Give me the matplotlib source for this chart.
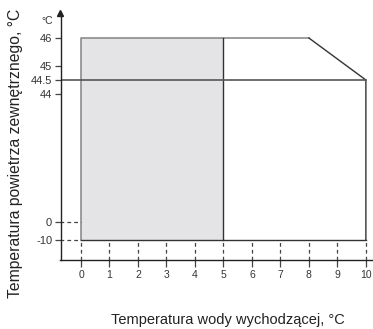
import numpy as np
import matplotlib
matplotlib.use('Agg')
import matplotlib.pyplot as plt

plt.rcParams['font.family'] = ['Liberation Sans', 'DejaVu Sans']

# operating envelope (water outlet temp vs outdoor air temp)
x_ticks = list(range(0, 11))
y_ticks = [46, 45, 44.5, 44, 0, -10]
y_tick_labels = ['46', '45', '44.5', '44', '0', '-10']

grey_x = [0, 5]            # shaded region
grey_y = [-10, 46]
top_x = [0, 0, 8]          # grey top / left border
top_y = [-10, 46, 46]
outline_x = [8, 10, 10]    # sloped right edge
outline_y = [46, 44.5, -10]
limit_y = 44.5

# non-linear (schematic) y axis
val_knots = [-21, -10, 0, 44, 45, 46, 47]
pos_knots = [0, 20, 38, 166, 194, 222, 247]


def fwd(v):
    return np.interp(v, val_knots, pos_knots, left=-1e3, right=1e3)


def inv(p):
    return np.interp(p, pos_knots, val_knots)


W, H = 373, 329
fig = plt.figure(figsize=(W / 100, H / 100), dpi=100)
ax = fig.add_axes([60.5 / W, 69 / H, (W - 60.5) / W, 247 / H])
ax.set_yscale('function', functions=(fwd, inv))
ax.set_ylim(-21, 47)
ax.set_xlim(-0.72, 10.25)

xmin = ax.get_xlim()[0]
ymin = ax.get_ylim()[0]

ax.fill_between(grey_x, grey_y[0], grey_y[1], color='#e4e4e6', lw=0)
ax.plot(top_x, top_y, color='#8c8c8c', lw=1.2)
ax.plot(outline_x, outline_y, color='#333333', lw=1.0)
ax.plot([5, 5], grey_y, color='#333333', lw=1.0)
ax.plot([0, 10], [-10, -10], color='#333333', lw=1.0)
ax.plot([xmin, 10], [limit_y, limit_y], color='#555555', lw=1.2)

# dashed guides
for yv in [0, -10]:
    ax.plot([xmin, 0], [yv, yv], color='#444444', lw=0.9, ls=(0, (3, 2.5)))
for xv in x_ticks:
    ax.plot([xv, xv], [ymin, -10], color='#444444', lw=0.9, ls=(0, (3, 2.5)))

for s in ['top', 'right']:
    ax.spines[s].set_visible(False)
for s in ['left', 'bottom']:
    ax.spines[s].set_color('#222222')
    ax.spines[s].set_linewidth(1.0)

ax.set_yticks(y_ticks)
ax.set_yticklabels(y_tick_labels)
ax.yaxis.set_minor_locator(matplotlib.ticker.NullLocator())
ax.set_xticks(x_ticks)
ax.tick_params(axis='y', length=4, width=0.9, color='#444444', labelsize=8,
               labelcolor='#333333', pad=2)
ax.tick_params(axis='x', length=5, width=0.9, color='#444444', labelsize=7.5,
               labelcolor='#333333', pad=2)

# arrow on y axis
ax.plot([xmin], [47], marker='^', color='#222222', ms=4, clip_on=False)

fig.text(47 / W, 1 - 21 / H, '°C', fontsize=7.5, color='#333333',
         ha='center', va='center')
fig.text(16 / W, 1 - 153 / H, 'Temperatura powietrza zewnętrznego, °C',
         rotation=90, fontsize=11.3, color='#222222', ha='center', va='center')
fig.text(228 / W, 1 - 320 / H, 'Temperatura wody wychodzącej, °C',
         fontsize=10.5, color='#222222', ha='center', va='center')

fig.savefig('out.png', dpi=100)
